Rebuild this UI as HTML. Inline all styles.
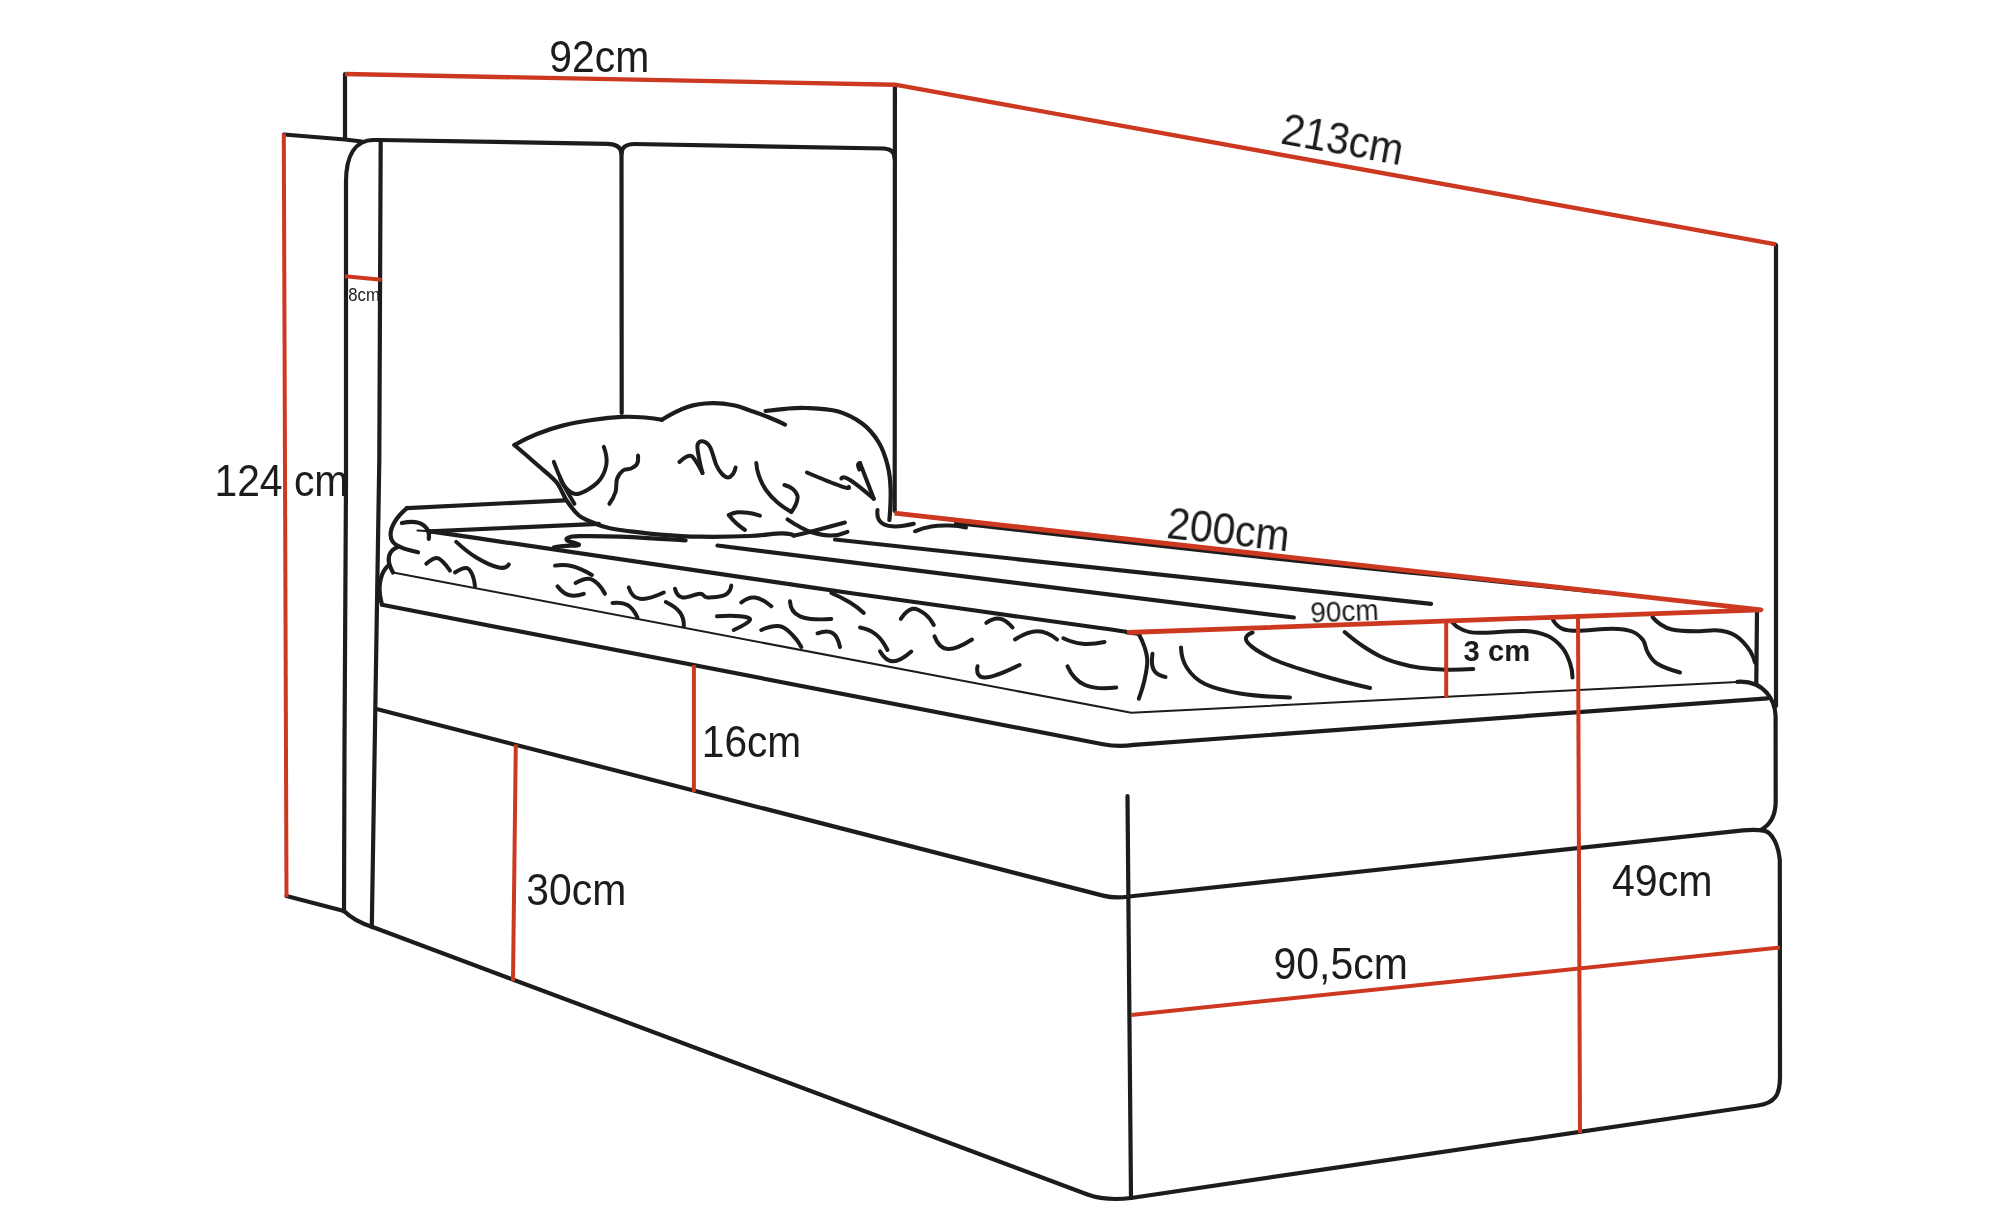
<!DOCTYPE html>
<html><head><meta charset="utf-8">
<style>
html,body{margin:0;padding:0;background:#fff;}
body{width:2000px;height:1222px;overflow:hidden;}
svg{display:block;}
text{font-family:"Liberation Sans",sans-serif;fill:#1c1c1c;}
</style></head><body>
<svg width="2000" height="1222" viewBox="0 0 2000 1222">
<rect width="2000" height="1222" fill="#ffffff"/>
<g fill="none" stroke="#1c1c1c" stroke-width="4.2" stroke-linecap="round" stroke-linejoin="round">
<path d="M345 74 L345 139"/>
<path d="M284 134.5 L345 139.5 L362 141.5"/>
<path d="M894.9 85 L894.7 511"/>
<path d="M1776 245 L1776 706"/>
<path d="M344 911.5 L344.5 745 L346 480 L346 182 C346 156 355 140 374 140 L380.7 140"/>
<path d="M380.7 140 L379.3 460 L371.8 927"/>
<path d="M286.5 896 L344 911 C352 919 360 923 372.5 927"/>
<path d="M380.5 140 L607 143.8 C616 144 621 147 621.5 153"/>
<path d="M621.5 153 C622 147 627 144 634 144 L884 148.5 C891 149 894.5 152 894.5 158"/>
<path d="M621.5 153 L621.7 413"/>
<path d="M372.5 927 L1087.5 1194.5 C1100 1199 1115 1200 1131 1198"/>
<path d="M377.5 709.3 L1103 895.6 C1111 897.7 1120 897.9 1129 896.5"/>
<path d="M382 604.8 L1103 744.2 Q1118 747.3 1134 744.9"/>
<path d="M1127.5 796 L1131 1198"/>
<path d="M1134 744.9 L1767.5 698.3"/>
<path d="M1129 896.5 L1743 830.4 C1752 829.4 1758 829.5 1764.7 830.9 C1772.5 833 1778.3 845 1779.8 860 L1780 1077 C1780 1095 1775 1103 1758 1105.5 L1131 1198"/>
<path d="M1737.5 681.8 C1750 681 1760 685 1767 693 C1772 699 1775.3 707 1775.6 716 L1775.7 802 C1775.5 815 1771 824 1761.5 829.6"/>
<path d="M1757 611.5 L1756.3 682.5"/>
<path d="M406.9 508.1 L564.4 500.3"/>
<path d="M406.9 508.1 C402.5 511.9 397.7 516.8 395.0 521.3 C392.3 525.8 390.4 531.0 390.6 535.0 C390.8 539.0 391.7 542.1 396.3 545.0 C400.9 547.9 409.7 550.5 418.0 552.3"/>
<path d="M401.9 523.0 C407.2 522.0 413.3 521.5 417.5 522.5 C421.7 523.5 425.0 526.1 426.9 528.8 C428.8 531.5 429.2 535.4 428.8 538.8"/>
<path d="M430.0 531.3 L598.8 523.8"/>
<path d="M430.0 531.3 C550.8 549.0 680.0 568.0 750.0 578.3 C820.0 588.6 791.7 584.7 850.0 593.0 C908.3 601.3 1053.8 621.4 1100.0 628.0 C1146.2 634.6 1147.0 635.0 1127.0 632.5"/>
<path d="M398.0 546.9 C395.1 548.1 392.1 550.1 390.6 552.5 C389.1 554.9 388.4 558.0 388.8 561.3 C389.2 564.6 391.0 568.9 393.0 572.5"/>
<path d="M388.8 565.0 C387.1 566.6 385.1 568.8 383.8 571.0 C382.5 573.2 381.7 575.5 381.0 578.0 C380.3 580.5 379.8 583.5 379.6 586.3 C379.4 589.1 379.6 592.0 380.0 595.0 C380.4 598.0 381.2 601.7 382.0 604.6"/>
<path d="M956.0 523.0 C968.1 524.4 1001.0 528.1 1060.0 534.6 C1119.0 541.1 1245.0 555.2 1310.0 562.2 C1375.0 569.2 1401.7 571.5 1450.0 576.5 C1498.3 581.5 1555.0 587.4 1600.0 592.2"/>
<path d="M835.0 539.5 L1431.0 603.8"/>
<path d="M717.5 545.5 L1293.8 617.5"/>
<path d="M514.4 445.0 C520.6 441.5 529.0 437.2 537.0 434.0 C545.0 430.8 553.3 427.9 562.5 425.6 C571.7 423.3 582.2 421.4 592.0 420.0 C601.8 418.6 612.5 417.3 621.3 416.9 C630.1 416.5 638.2 417.0 645.0 417.5 C651.8 418.0 657.8 418.9 661.9 419.8"/>
<path d="M661.9 419.8 C669.4 414.9 679.1 409.7 687.5 406.9 C695.9 404.1 704.6 403.3 712.5 403.1 C720.4 402.9 728.8 404.3 735.0 405.5 C741.2 406.7 744.5 408.6 750.0 410.5 C755.5 412.4 762.2 414.6 768.0 417.0 C773.8 419.4 780.2 422.2 785.0 424.6"/>
<path d="M765.6 411.0 C771.0 410.2 778.2 409.3 785.0 408.8 C791.8 408.3 797.5 407.6 806.3 408.0 C815.0 408.4 828.1 408.7 837.5 411.3 C846.9 413.9 855.6 418.6 862.5 423.8 C869.4 429.0 874.6 435.6 878.8 442.5 C883.0 449.4 885.5 457.3 887.5 465.0 C889.5 472.7 890.3 479.6 890.6 488.8 C890.9 498.0 890.3 510.0 889.4 520.0"/>
<path d="M514.4 445.0 C521.7 451.2 530.5 458.8 537.5 465.0 C544.5 471.2 551.5 476.2 556.3 482.0 C561.1 487.8 562.6 494.5 566.3 500.0 C570.0 505.5 574.1 511.3 578.4 515.0 C582.7 518.7 587.1 520.1 592.0 522.2 C596.9 524.3 602.0 526.3 608.0 527.8 C614.0 529.3 619.3 529.9 628.0 531.0 C636.7 532.1 648.0 533.6 660.0 534.6 C672.0 535.6 685.0 536.5 700.0 536.7 C715.0 536.9 736.5 536.6 750.0 536.0 C763.5 535.4 773.7 533.4 781.0 533.3 C788.3 533.2 792.3 534.3 793.8 535.6"/>
<path d="M554.0 547.4 C557.8 546.8 562.4 546.2 566.0 545.9 C569.6 545.6 573.3 545.9 575.5 545.7 C577.7 545.5 579.2 545.1 579.0 544.6 C578.8 544.1 575.9 543.5 574.0 542.8 C572.1 542.1 568.7 541.3 567.5 540.6 C566.3 539.9 566.2 539.0 566.8 538.4 C567.4 537.8 568.8 537.2 571.0 536.8 C573.2 536.4 571.8 536.1 580.0 536.1 C588.2 536.1 602.4 535.9 620.0 536.6 C637.6 537.3 663.3 538.9 685.6 540.4"/>
</g>
<g fill="none" stroke="#1c1c1c" stroke-width="4" stroke-linecap="round" stroke-linejoin="round">
<path d="M553.8 461.9 C555.9 467.8 559.1 475.5 562.5 482.5 C565.9 489.5 570.5 497.5 574.4 503.8"/>
<path d="M603.8 446.9 C605.9 452.3 607.3 459.1 606.3 465.0 C605.2 470.9 602.3 477.7 597.5 482.5 C592.7 487.3 582.8 493.1 577.5 494.0 C572.2 494.9 568.9 490.7 566.0 488.0 C563.1 485.3 561.1 481.4 560.0 478.0"/>
<path d="M638.0 455.6 C638.3 458.5 638.2 461.9 637.0 464.0 C635.8 466.1 633.3 467.4 631.0 468.5 C628.7 469.6 625.3 468.8 623.0 470.5 C620.7 472.2 618.2 475.4 617.0 479.0 C615.8 482.6 616.8 487.9 615.5 492.0 C614.2 496.1 611.8 500.5 609.4 503.8"/>
<path d="M679.4 461.9 C681.5 460.0 684.0 458.0 686.0 457.0 C688.0 456.0 689.7 455.0 691.5 456.0 C693.3 457.0 695.2 460.2 697.0 463.0 C698.8 465.8 700.9 469.7 702.5 473.0"/>
<path d="M702.5 473.0 C701.2 468.4 699.8 462.7 699.0 458.0 C698.2 453.3 696.9 447.8 697.5 445.0 C698.1 442.2 700.4 441.0 702.5 441.3 C704.6 441.6 707.7 443.1 710.0 447.0 C712.3 450.9 714.3 460.5 716.3 465.0 C718.3 469.5 720.0 471.9 722.0 474.0 C724.0 476.1 726.2 477.5 728.0 477.5 C729.8 477.5 731.7 475.7 733.0 474.0 C734.3 472.3 735.1 469.8 735.6 467.5"/>
<path d="M756.3 463.0 C756.5 466.7 757.4 471.5 759.0 476.0 C760.6 480.5 762.9 485.6 766.0 490.0 C769.1 494.4 773.3 498.9 777.5 502.5 C781.7 506.1 787.0 509.5 791.3 511.9"/>
<path d="M791.3 511.9 C793.1 509.6 795.0 506.6 796.0 504.0 C797.0 501.4 798.1 498.5 797.5 496.0 C796.9 493.5 794.7 490.6 792.5 488.8 C790.3 487.0 787.1 485.7 784.4 485.0"/>
<path d="M806.9 472.5 C820.3 478.2 834.3 483.9 841.3 486.3 C848.3 488.7 850.0 488.4 848.8 486.9"/>
<path d="M841.3 478.5 C841.9 476.8 844.6 476.6 850.0 480.0 C855.4 483.4 865.0 491.2 873.8 498.8"/>
<path d="M873.8 498.8 L860.0 463.0"/>
<path d="M860.0 463.0 C859.0 463.3 858.1 463.9 858.0 465.0 C857.9 466.1 858.6 467.9 859.4 469.5"/>
<path d="M760.0 515.6 C756.3 514.5 751.8 513.3 748.0 512.8 C744.2 512.2 740.7 511.9 737.5 512.3 C734.3 512.7 731.1 513.8 728.8 515.0"/>
<path d="M728.8 515.0 C730.7 517.5 733.3 520.5 736.0 523.0 C738.7 525.5 742.1 528.1 745.0 530.0"/>
<path d="M787.5 519.4 C791.1 521.9 795.8 524.8 800.0 527.0 C804.2 529.2 807.3 531.1 812.5 532.5 C817.7 533.9 825.5 535.7 831.3 535.6 C837.1 535.5 843.1 533.8 847.5 531.9"/>
<path d="M793.8 535.6 C797.5 534.9 804.0 533.5 812.5 531.3 C821.0 529.1 833.8 525.6 845.0 522.5"/>
<path d="M877.5 510.0 C877.0 514.1 877.5 518.6 880.0 521.3 C882.5 524.0 886.9 525.9 892.5 526.3 C898.1 526.7 906.5 525.5 913.8 523.8"/>
<path d="M915.0 531.3 C919.5 529.4 925.5 527.5 931.3 526.5 C937.1 525.5 944.2 525.4 950.0 525.6 C955.8 525.8 961.7 526.6 966.0 527.5"/>
<path d="M456.3 541.9 C461.8 547.1 469.2 553.2 476.3 557.5 C483.4 561.8 493.4 566.4 498.8 567.5 C504.2 568.6 507.4 566.9 508.8 564.4"/>
<path d="M426.3 563.8 C429.6 560.9 433.5 558.3 436.3 558.0 C439.1 557.7 440.7 559.9 443.0 562.0 C445.3 564.1 447.9 567.5 450.0 570.6"/>
<path d="M455.0 572.5 C459.0 569.9 463.5 567.8 466.3 568.0 C469.1 568.2 470.6 571.0 472.0 574.0 C473.4 577.0 474.5 581.9 475.0 586.3"/>
<path d="M555.0 565.6 C559.9 564.8 566.4 564.7 572.5 566.3 C578.6 567.9 586.0 571.5 591.9 575.0"/>
<path d="M575.6 583.0 C580.0 580.6 585.1 578.6 588.8 578.8 C592.5 579.0 595.3 581.5 598.0 584.0 C600.7 586.5 603.2 590.4 605.0 593.8"/>
<path d="M557.5 586.3 C560.3 590.1 564.4 593.8 568.8 595.0 C573.2 596.2 579.0 595.4 583.8 593.8"/>
<path d="M612.5 603.0 C617.5 602.3 623.3 602.6 627.5 605.0 C631.7 607.4 635.2 612.5 637.5 617.5"/>
<path d="M628.8 587.5 C630.5 593.0 634.2 598.0 640.0 598.8 C645.8 599.6 655.3 596.5 663.8 592.5"/>
<path d="M675.0 588.8 C675.9 592.9 678.3 596.7 682.5 597.5 C686.7 598.3 695.8 593.8 700.0 593.8 C704.2 593.8 703.3 597.3 707.5 597.5 C711.7 597.7 721.0 597.0 725.0 595.0 C729.0 593.0 730.9 589.1 731.3 585.5"/>
<path d="M665.8 602.0 C671.2 604.6 677.0 608.5 680.0 612.5 C683.0 616.5 684.0 621.9 683.8 626.3"/>
<path d="M741.3 602.5 C745.0 599.3 750.0 596.9 755.0 597.5 C760.0 598.1 766.2 602.0 771.3 606.3"/>
<path d="M717.0 616.3 C725.3 615.8 734.5 615.7 740.0 616.3 C745.5 616.9 751.0 617.7 750.0 620.0 C749.0 622.3 741.8 626.3 733.8 630.0"/>
<path d="M761.3 630.0 C767.5 627.4 774.8 625.5 780.0 626.3 C785.2 627.1 789.0 631.5 792.5 635.0 C796.0 638.5 799.2 643.1 801.3 647.0"/>
<path d="M790.0 601.3 C790.3 607.2 793.1 613.3 800.0 616.3 C806.9 619.2 819.5 619.8 831.3 619.0"/>
<path d="M817.5 633.3 C822.8 631.4 828.8 630.7 832.5 633.0 C836.2 635.3 838.8 641.1 840.0 647.0"/>
<path d="M831.3 593.0 C837.4 595.6 844.6 599.2 850.0 602.5 C855.4 605.8 860.4 609.8 863.8 613.0"/>
<path d="M860.0 627.5 C865.2 628.5 871.4 630.8 876.0 634.5 C880.6 638.2 884.7 644.4 887.5 650.0"/>
<path d="M880.0 651.3 C883.1 656.7 887.8 661.3 893.0 661.3 C898.2 661.3 905.3 656.8 911.3 651.5"/>
<path d="M900.8 618.8 C904.1 614.0 908.5 609.6 912.5 608.8 C916.5 608.0 921.5 611.3 925.0 614.0 C928.5 616.7 931.7 621.1 933.8 625.0"/>
<path d="M934.5 636.3 C936.9 642.8 941.2 648.5 947.5 649.0 C953.8 649.5 963.4 645.0 972.0 639.5"/>
<path d="M986.3 622.8 C990.4 620.0 995.6 618.0 1000.0 618.8 C1004.4 619.6 1009.0 623.4 1012.5 627.5"/>
<path d="M1015.0 639.5 C1021.9 635.1 1030.5 631.3 1037.5 631.3 C1044.5 631.3 1051.7 635.1 1057.0 639.5"/>
<path d="M1063.3 638.3 C1068.5 640.8 1075.6 643.2 1082.5 643.8 C1089.4 644.4 1097.7 643.4 1104.5 642.0"/>
<path d="M977.5 666.3 C976.3 672.5 978.0 677.7 985.0 677.5 C992.0 677.3 1006.1 671.6 1019.5 665.0"/>
<path d="M1067.5 666.3 C1070.9 673.8 1076.9 681.5 1085.0 685.0 C1093.1 688.5 1105.4 688.8 1116.3 687.5"/>
<path d="M1139.0 634.5 C1140.9 638.0 1143.1 642.6 1144.5 647.0 C1145.9 651.4 1147.3 655.5 1147.3 661.0 C1147.3 666.5 1145.9 673.7 1144.5 680.0 C1143.1 686.3 1140.8 693.3 1138.8 698.8"/>
<path d="M1152.5 653.8 C1151.6 659.7 1151.6 666.1 1153.8 670.0 C1156.0 673.9 1160.8 676.1 1165.5 677.0"/>
<path d="M1181.0 647.5 C1181.2 654.0 1183.0 661.9 1187.0 668.0 C1191.0 674.1 1196.2 679.8 1205.0 684.0 C1213.8 688.2 1225.8 691.2 1240.0 693.5 C1254.2 695.8 1273.5 697.0 1290.0 697.5"/>
<path d="M1252.5 632.5 C1247.0 634.5 1243.8 637.9 1247.5 642.5 C1251.2 647.1 1262.9 654.6 1275.0 660.0 C1287.1 665.4 1304.2 670.3 1320.0 675.0 C1335.8 679.7 1354.8 684.5 1370.0 688.0"/>
<path d="M1344.6 632.0 C1349.5 636.2 1355.9 641.4 1362.0 645.5 C1368.1 649.6 1374.7 653.7 1381.0 656.7 C1387.3 659.7 1393.5 661.6 1400.0 663.5 C1406.5 665.4 1412.3 666.8 1420.0 667.8 C1427.7 668.8 1437.1 669.5 1446.0 669.7 C1454.9 669.9 1465.2 669.5 1473.3 669.0"/>
<path d="M1452.5 622.5 C1454.5 625.0 1457.8 627.8 1462.0 629.5 C1466.2 631.2 1467.5 632.5 1478.0 632.8 C1488.5 633.0 1513.3 630.5 1525.0 631.0 C1536.7 631.5 1541.8 633.2 1548.0 636.0 C1554.2 638.8 1558.8 643.5 1562.5 648.0 C1566.2 652.5 1568.3 658.1 1570.0 663.0 C1571.7 667.9 1572.4 673.3 1572.5 677.5"/>
<path d="M1553.0 620.0 C1555.0 623.4 1558.3 627.0 1562.5 628.8 C1566.7 630.6 1569.7 630.8 1578.0 630.8 C1586.3 630.8 1603.5 628.7 1612.5 628.8 C1621.5 628.9 1626.9 629.6 1632.0 631.5 C1637.1 633.4 1640.4 636.6 1643.0 640.0 C1645.6 643.4 1645.2 648.1 1647.5 652.0 C1649.8 655.9 1651.6 660.1 1657.0 663.5 C1662.4 666.9 1671.6 670.2 1680.0 672.5"/>
<path d="M1652.5 617.0 C1654.1 619.2 1656.8 621.9 1660.0 624.0 C1663.2 626.1 1666.2 628.3 1672.0 629.5 C1677.8 630.7 1687.8 631.2 1695.0 631.3 C1702.2 631.4 1709.6 630.1 1715.0 630.2 C1720.4 630.3 1723.7 631.0 1727.2 632.0 C1730.7 633.0 1733.3 634.3 1736.0 636.0 C1738.7 637.7 1740.8 639.5 1743.2 642.1 C1745.6 644.7 1748.6 648.3 1750.6 651.7 C1752.6 655.1 1754.1 659.2 1755.0 662.5"/>
</g>
<g fill="none" stroke="#1c1c1c" stroke-width="2" stroke-linecap="round" stroke-linejoin="round">
<path d="M417.5 530.6 L430.0 531.3"/>
<path d="M393.0 572.5 L1131.3 712.8 L1737.5 682.0"/>
</g>
<g fill="none" stroke="#cc3820" stroke-linecap="butt" stroke-linejoin="round">
<path stroke-width="4.4" d="M345 74 L895 84.7 L1776 244.4"/>
<path stroke-width="4.8" d="M894.5 513.2 L1761 609.8 L1127 632.5"/>
<path stroke-width="4" d="M283.8 133.5 L286.5 897"/>
<path stroke-width="4" d="M345 276.3 L381.5 279.8"/>
<path stroke-width="4" d="M693.9 665 L693.9 792"/>
<path stroke-width="4" d="M515.8 744.5 L513 981"/>
<path stroke-width="4" d="M1446.2 619 L1446.2 697.5"/>
<path stroke-width="4" d="M1578 614 L1580 1133"/>
<path stroke-width="4" d="M1131.3 1015 L1780 947.5"/>
</g>
<g opacity="0.999">
<text transform="translate(549.3,71.8) scale(0.94,1)" font-size="43.5">92cm</text>
<text transform="translate(214.5,496) scale(0.938,1)" font-size="43.5">124 cm</text>
<text transform="translate(348.3,301) scale(0.93,1)" font-size="18">8cm</text>
<text transform="translate(701.8,756.6) scale(0.935,1)" font-size="43.5">16cm</text>
<text transform="translate(526.3,905) scale(0.94,1)" font-size="43.5">30cm</text>
<text transform="translate(1612,895.7) scale(0.945,1)" font-size="43.5">49cm</text>
<text transform="translate(1273.5,978.8) scale(0.942,1)" font-size="43.5">90,5cm</text>
<text transform="translate(1310.8,622.6) rotate(-2.3) scale(0.93,1)" font-size="30">90cm</text>
<text transform="translate(1463.6,661) scale(0.965,1)" font-size="30.3" font-weight="bold">3 cm</text>
<text transform="translate(1279.6,143.3) rotate(10.3) scale(0.94,1)" font-size="43.5">213cm</text>
<text transform="translate(1165.8,537.9) rotate(6.3) scale(0.94,1)" font-size="43.5">200cm</text>
</g>
</svg>
</body></html>
